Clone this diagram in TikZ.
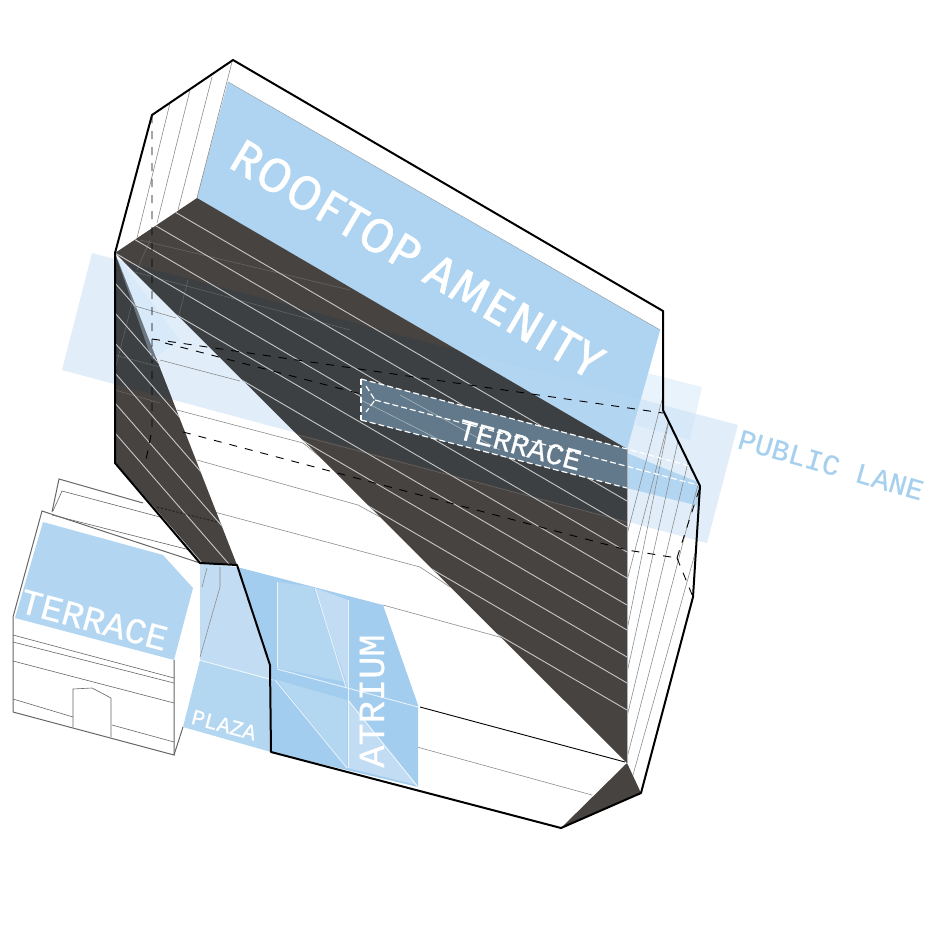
\documentclass[tikz,border=0pt]{standalone}
\usepackage{fontspec}
\setmainfont{Fira Sans}
\setmonofont{Liberation Mono}[FakeBold=0.5]
\newfontfamily\roofFont{Fira Sans}[FakeBold=1.2, LetterSpace=3]
\usepackage{tikz}
\definecolor{roofBlue}{HTML}{AED4F1}
\definecolor{lanePale}{HTML}{C8E0F6}
\definecolor{darkFace}{HTML}{474341}
\definecolor{laneDark}{HTML}{363E45}
\definecolor{stripGrey}{HTML}{61798A}
\definecolor{laneText}{HTML}{A6D0EE}
\definecolor{atriumBlue}{HTML}{A3CDEF}
\definecolor{atriumMid}{HTML}{B3D6F1}
\definecolor{atriumLight}{HTML}{C2DDF3}
\tikzstyle{fHair} = [draw=black!45, line width=0.6pt]
\tikzstyle{fGhost} = [draw=white!55!black, line width=0.6pt, opacity=0.45]
\tikzstyle{fRib} = [draw=white!78!black, line width=0.9pt]
\tikzstyle{fOutline} = [draw=black, line width=2pt, line join=round]
\tikzstyle{fBuilding} = [draw=black!60, line width=1pt]
\tikzstyle{fHidden} = [draw=black, line width=0.9pt, dash pattern=on 8pt off 8pt]
\tikzstyle{fHiddenWhite} = [draw=white, line width=1.2pt, dash pattern=on 6pt off 3pt]
\tikzstyle{fSeam} = [draw=white, line width=0.9pt, opacity=0.75]
\tikzstyle{fLabel} = [text=white, inner sep=0pt, font=\ttfamily]
\begin{document}
\begin{tikzpicture}[x=1pt, y=-1pt]
    \useasboundingbox (0,0) rectangle (930,930);

    % roof and the lane plane
    \fill [roofBlue] (228,82) -- (660,330) -- (627,449) -- (197,198) -- cycle;
    \draw [fHair] (228,82) -- (660,330);
    \fill [lanePale, opacity=0.55] (92,253) -- (738,425) -- (707,543) -- (62,370) -- cycle;
    \fill [lanePale, opacity=0.4] (647,373) -- (702,387) -- (690,440) -- (635,425) -- cycle;
    \fill [roofBlue, opacity=0.7] (228,82) -- (660,330) -- (627,449) -- (197,198) -- cycle;

    % facets
    \begin{scope}
        \clip (660,330) -- (663,410) -- (700,486) -- (693,597) -- (641,793) -- (627,763) -- (627,449) -- cycle;
        \fill [roofBlue, opacity=0.9] (627,453) -- (700,483) -- (699,506) -- (627,488) -- cycle;
        \foreach \lx/\ls in {610/0.26, 622/0.26, 633/0.2, 643/0.22, 655/0.24, 668/0.26, 682/0.28} {
            \draw [fHair] (\lx+\ls*300,300) -- (\lx-\ls*200,800);
        }
    \end{scope}
    \foreach \xa/\ya/\xb/\yb in {232/62/197/198, 212/77/178/210, 190/90/157/223, 170/103/137/238} {
        \draw [fHair] (\xa,\ya) -- (\xb,\yb);
    }

    % thin lines on the white face
    \draw [fHair] (197,460) -- (358,505) -- (380,517);
    \draw [fHair] (207,510) -- (420,567) -- (450,587);
    \draw [fHair] (177,410) -- (303,443) -- (330,465);
    \draw [fHair] (383,605) -- (627,672);
    \draw [fHair] (417,747) -- (592,795);
    \draw [draw=black, line width=0.9pt] (420,707) -- (625,762);

    % atrium
    \fill [atriumBlue] (237,567) -- (383,605) -- (418,705) -- (418,787) -- (271,752) -- (270,665) -- cycle;
    \fill [atriumMid] (277,582) -- (313,587) -- (345,682) -- (277,668) -- cycle;
    \fill [atriumLight] (315,588) -- (348,600) -- (348,688) -- cycle;
    \fill [atriumMid] (277,680) -- (347,700) -- (347,767) -- cycle;
    \fill [atriumLight] (348,700) -- (417,785) -- (348,768) -- cycle;
    \foreach \xa/\ya/\xb/\yb in {277/582/277/668, 277/669/418/707, 315/588/346/687, 348/600/348/768, 275/680/347/768, 348/700/418/787} {
        \draw [fSeam] (\xa,\ya) -- (\xb,\yb);
    }

    % plaza
    \fill [atriumLight] (200,563) -- (237,567) -- (270,665) -- (271,680) -- (200,660) -- cycle;
    \fill [atriumMid] (200,660) -- (271,680) -- (271,752) -- (183,727) -- cycle;
    \draw [fSeam] (199,660) -- (273,680);
    \draw [fHair] (220,567) -- (220,587) -- (200,657);
    \draw [fHair] (207,568) -- (202,587);

    % building
    \fill [roofBlue!95!white] (43,522) -- (163,555) -- (193,588) -- (174,660) -- (15,618) -- cycle;
    \draw [fBuilding] (52,512) -- (59,479) -- (143,503);
    \draw [fBuilding] (13,712) -- (13,617) -- (42,511) -- (200,563);
    \draw [fBuilding] (13,712) -- (174,755) -- (174,660);
    \draw [fBuilding] (174,755) -- (183,727);
    \draw [fHair, draw=black!60] (53,511) -- (62,491) -- (160,517);
    \draw [fHair, draw=black!60] (52,515) -- (190,550);
    \foreach \ya/\yb in {635/678, 642/683, 661/703} {
        \draw [fHair, draw=black!60] (13,\ya) -- (174,\yb);
    }
    \draw [fHair, draw=black!60] (13,699) -- (73,717);
    \draw [fHair, draw=black!60] (112,725) -- (174,742);
    \draw [fHair, draw=black!60] (73,727) -- (73,689) -- (92,688) -- (111,698) -- (111,737);

    % dark faces
    \begin{scope}
        \clip (115,253) -- (197,198) -- (627,449) -- (627,763) -- cycle;
        \fill [darkFace] (100,190) rectangle (640,770);
        \fill [laneDark, opacity=0.6] (92,253) -- (738,425) -- (707,543) -- (62,370) -- cycle;
        \draw [fGhost] (140,240) -- (350,290);
        \draw [fGhost] (120,268) -- (350,330);
        \draw [fGhost] (177,403) -- (627,522);
        \draw [fGhost] (150,240) -- (137,270);
        \draw [fGhost] (188,280) -- (175,330);
        \foreach \ly in {476, 501, 527, 552, 578, 605, 630, 657, 683, 710} {
            \draw [fRib] (100,\ly-527*0.584) -- (627,\ly);
        }
    \end{scope}
    \begin{scope}
        \clip (115,253) -- (115,463) -- (200,563) -- (237,565) -- cycle;
        \fill [darkFace] (100,240) rectangle (240,570);
        \fill [laneDark, opacity=0.6] (92,253) -- (738,425) -- (707,543) -- (62,370) -- cycle;
        \draw [fGhost] (115,355) -- (160,367);
        \draw [fGhost] (115,390) -- (160,403);
        \draw [fGhost] (132,303) -- (115,370);
        \foreach \ly in {283, 313, 343, 373, 403, 433, 463} {
            \draw [fRib] (115,\ly) -- (250,\ly+135*1.15);
        }
    \end{scope}
    \fill [darkFace] (627,763) -- (641,793) -- (561,828) -- cycle;

    % lines on the lane in the void
    \fill [lanePale, opacity=0.35] (115,253) -- (180,340) -- (152,360) -- cycle;
    \draw [fHair] (135,306) -- (176,318);
    \draw [fHair] (160,360) -- (240,381);

    % terrace strip
    \fill [stripGrey] (361,379) -- (627,449) -- (627,488) -- (361,420) -- cycle;
    \draw [fGhost, draw=white] (361,400) -- (440,440);
    \draw [fGhost, draw=white] (400,395) -- (500,450);
    \draw [fHiddenWhite] (361,379) -- (627,449) -- (690,466);
    \draw [fHiddenWhite] (361,420) -- (627,488);
    \draw [fHiddenWhite] (375,400) -- (698,485);
    \draw [fHiddenWhite] (361,379) -- (361,420);
    \draw [fHiddenWhite] (366,386) -- (375,400) -- (366,412);

    % hidden edges
    \draw [fHidden] (152,115) -- (152,430) -- (146,460);
    \draw [fHidden] (152,339) -- (663,413);
    \draw [fHidden] (165,343) -- (361,394);
    \draw [fHidden] (183,432) -- (627,550) -- (677,558);
    \draw [fHidden] (677,558) -- (693,597);
    \draw [fHidden] (677,558) -- (699,490);
    \draw [draw=black, line width=0.5pt, dash pattern=on 2pt off 2pt] (157,507) -- (217,522);

    % outline
    \draw [fOutline] (233,60) -- (663,311) -- (663,410) -- (700,486) -- (693,597) -- (641,793) -- (561,828) -- (271,752) -- (270,665) -- (237,565) -- (200,563) -- (115,463) -- (115,253) -- (152,115) -- cycle;
    \draw [draw=white!70!black, line width=0.8pt] (627,449) -- (627,763);

    % labels
    \node (roofLabel) [fLabel, font=\roofFont\fontsize{48}{48}\selectfont, rotate=-30.5] at (417,259) {ROOFTOP AMENITY};
    \node (stripLabel) [fLabel, font=\ttfamily\fontsize{30}{30}\selectfont, rotate=-15] at (520,445) {TERRACE};
    \node (laneLabel) [fLabel, text=laneText, font=\ttfamily\fontsize{29}{29}\selectfont, rotate=-16] at (831,465) {PUBLIC LANE};
    \node (buildingLabel) [fLabel, font=\ttfamily\fontsize{36}{36}\selectfont, rotate=-15] at (94,620) {TERRACE};
    \node (plazaLabel) [fLabel, font=\ttfamily\fontsize{22}{22}\selectfont, rotate=-15] at (224,725) {PLAZA};
    \node (atriumLabel) [fLabel, font=\ttfamily\fontsize{37}{37}\selectfont, rotate=90] at (372,701) {ATRIUM};
\end{tikzpicture}
\end{document}
